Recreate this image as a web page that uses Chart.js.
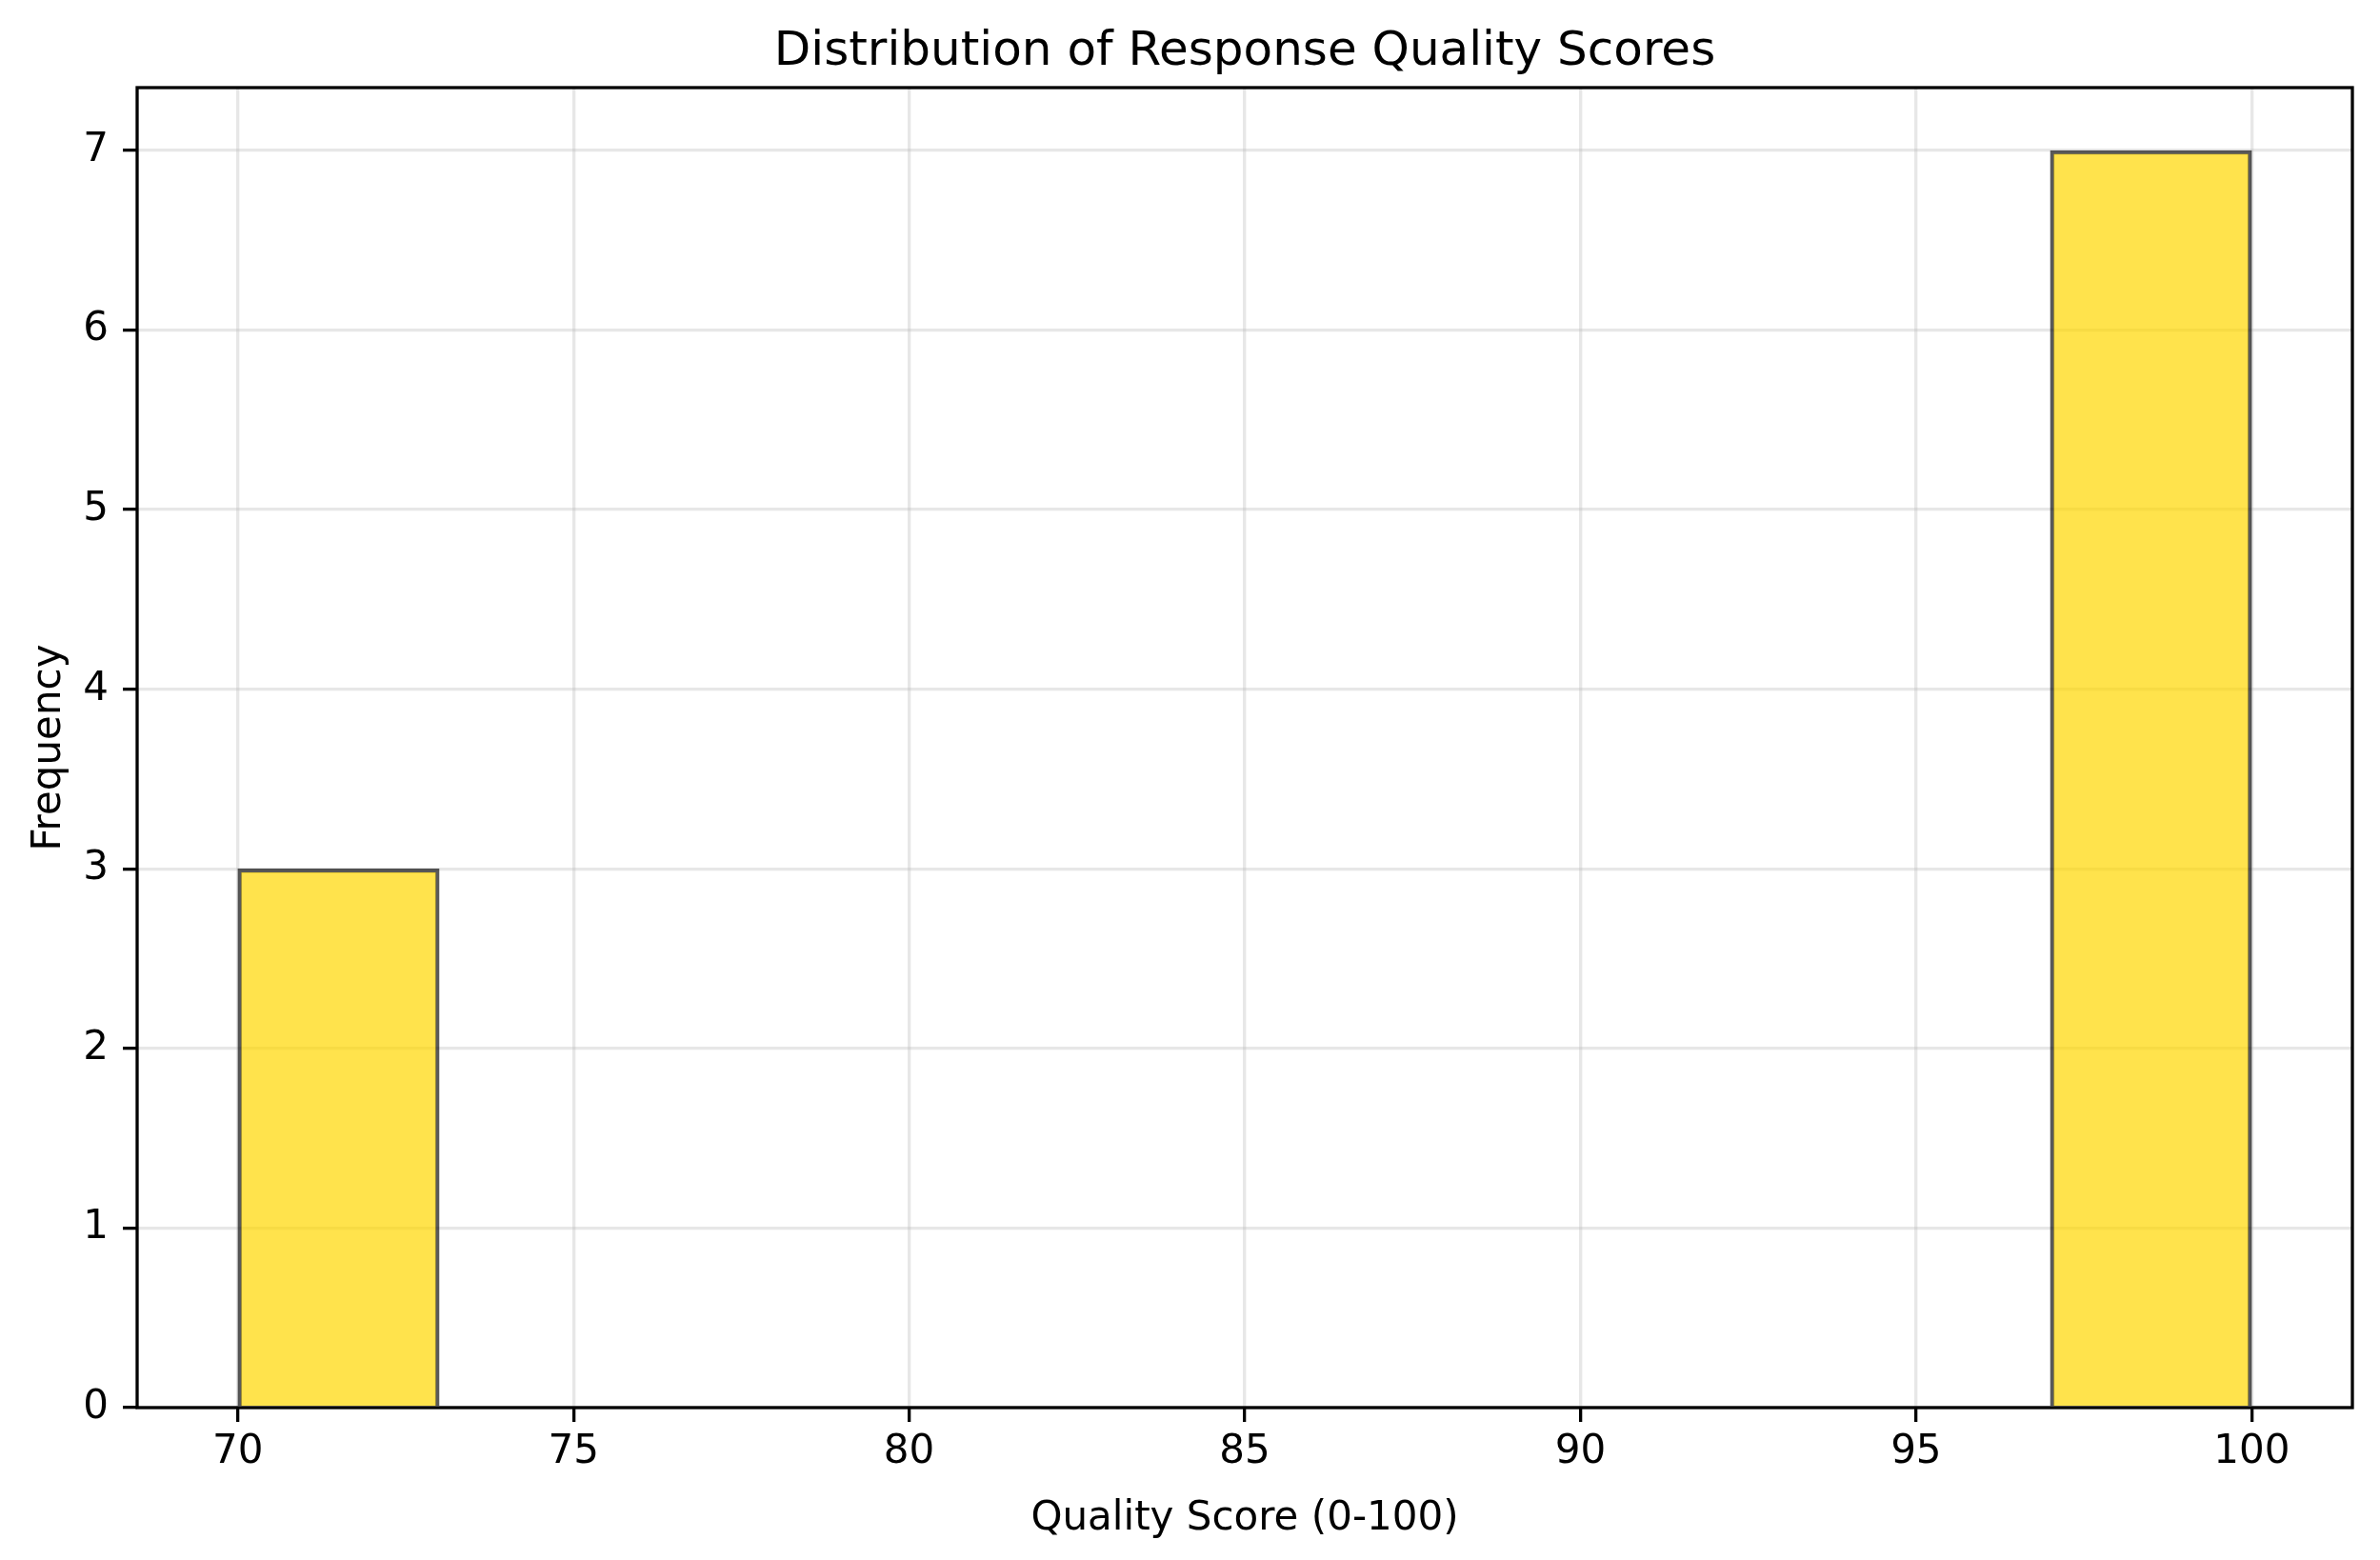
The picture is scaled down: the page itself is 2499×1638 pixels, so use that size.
<!DOCTYPE html>
<html>
  <head>
    <meta charset="utf-8" />
    <script src="https://cdn.jsdelivr.net/npm/chart.js"></script>
    <title>Distribution of Response Quality Scores</title>
    <style>
      body { margin: 0; background: #fff; }
      canvas { display: block; }
    </style>
  </head>
  <body>
    <canvas id="hist" width="2499" height="1638"></canvas>

    <script>
      // histogram data
      var binEdges = [70, 73, 76, 79, 82, 85, 88, 91, 94, 97, 100];
      var binCounts = [3, 0, 0, 0, 0, 0, 0, 0, 0, 7];
      var xTicks = [70, 75, 80, 85, 90, 95, 100];
      var yTicks = [0, 1, 2, 3, 4, 5, 6, 7];

      var chartTitle = "Distribution of Response Quality Scores";
      var xLabel = "Quality Score (0-100)";
      var yLabel = "Frequency";

      var points = binCounts.map(function (c, i) {
        return { x: (binEdges[i] + binEdges[i + 1]) / 2, y: c };
      });

      var FONT = "'DejaVu Sans', sans-serif";

      // black frame around plot area (spines)
      var framePlugin = {
        id: "frame",
        afterDatasetsDraw: function (chart) {
          var a = chart.chartArea;
          var ctx = chart.ctx;
          ctx.save();
          ctx.strokeStyle = "#000";
          ctx.lineWidth = 3.3;
          ctx.strokeRect(a.left, a.top, a.right - a.left, a.bottom - a.top);
          ctx.restore();
        },
      };

      function setTicks(list) {
        return function (scale) {
          scale.ticks = list.map(function (v) {
            return { value: v };
          });
        };
      }

      var ctx = document.getElementById("hist").getContext("2d");
      new Chart(ctx, {
        type: "bar",
        data: {
          datasets: [
            {
              data: points,
              backgroundColor: "rgba(255, 215, 0, 0.7)",
              borderColor: "rgba(0, 0, 0, 0.65)",
              borderWidth: 4,
              borderSkipped: "start",
              barPercentage: 1,
              categoryPercentage: 1,
            },
          ],
        },
        options: {
          responsive: false,
          devicePixelRatio: 1,
          animation: false,
          layout: { padding: { left: 0, right: 29, top: 0, bottom: 0 } },
          plugins: {
            legend: { display: false },
            tooltip: { enabled: false },
            title: {
              display: true,
              fullSize: false,
              text: chartTitle,
              color: "#000",
              font: { family: FONT, size: 50, weight: "normal" },
              padding: { top: 25, bottom: 7 },
            },
          },
          scales: {
            x: {
              type: "linear",
              min: 68.5,
              max: 101.5,
              offset: false,
              afterBuildTicks: setTicks(xTicks),
              afterFit: function (scale) {
                scale.height = 160;
              },
              border: { display: false },
              grid: {
                offset: false,
                color: "rgba(176, 176, 176, 0.3)",
                lineWidth: 3.3,
                drawTicks: true,
                tickLength: 15,
                tickColor: "#000",
                tickWidth: 3.3,
              },
              ticks: {
                color: "#000",
                padding: 7,
                maxRotation: 0,
                font: { family: FONT, size: 42 },
              },
              title: {
                display: true,
                text: xLabel,
                color: "#000",
                font: { family: FONT, size: 42 },
                padding: { top: 0, bottom: 18 },
              },
            },
            y: {
              min: 0,
              max: 7.35,
              afterBuildTicks: setTicks(yTicks),
              afterFit: function (scale) {
                scale.width = 144;
              },
              border: { display: false },
              grid: {
                color: "rgba(176, 176, 176, 0.3)",
                lineWidth: 3.3,
                drawTicks: true,
                tickLength: 15,
                tickColor: "#000",
                tickWidth: 3.3,
              },
              ticks: {
                color: "#000",
                padding: 15,
                font: { family: FONT, size: 42 },
              },
              title: {
                display: true,
                text: yLabel,
                color: "#000",
                font: { family: FONT, size: 42 },
                padding: { top: 27, bottom: 0 },
              },
            },
          },
        },
        plugins: [framePlugin],
      });
    </script>
  </body>
</html>
